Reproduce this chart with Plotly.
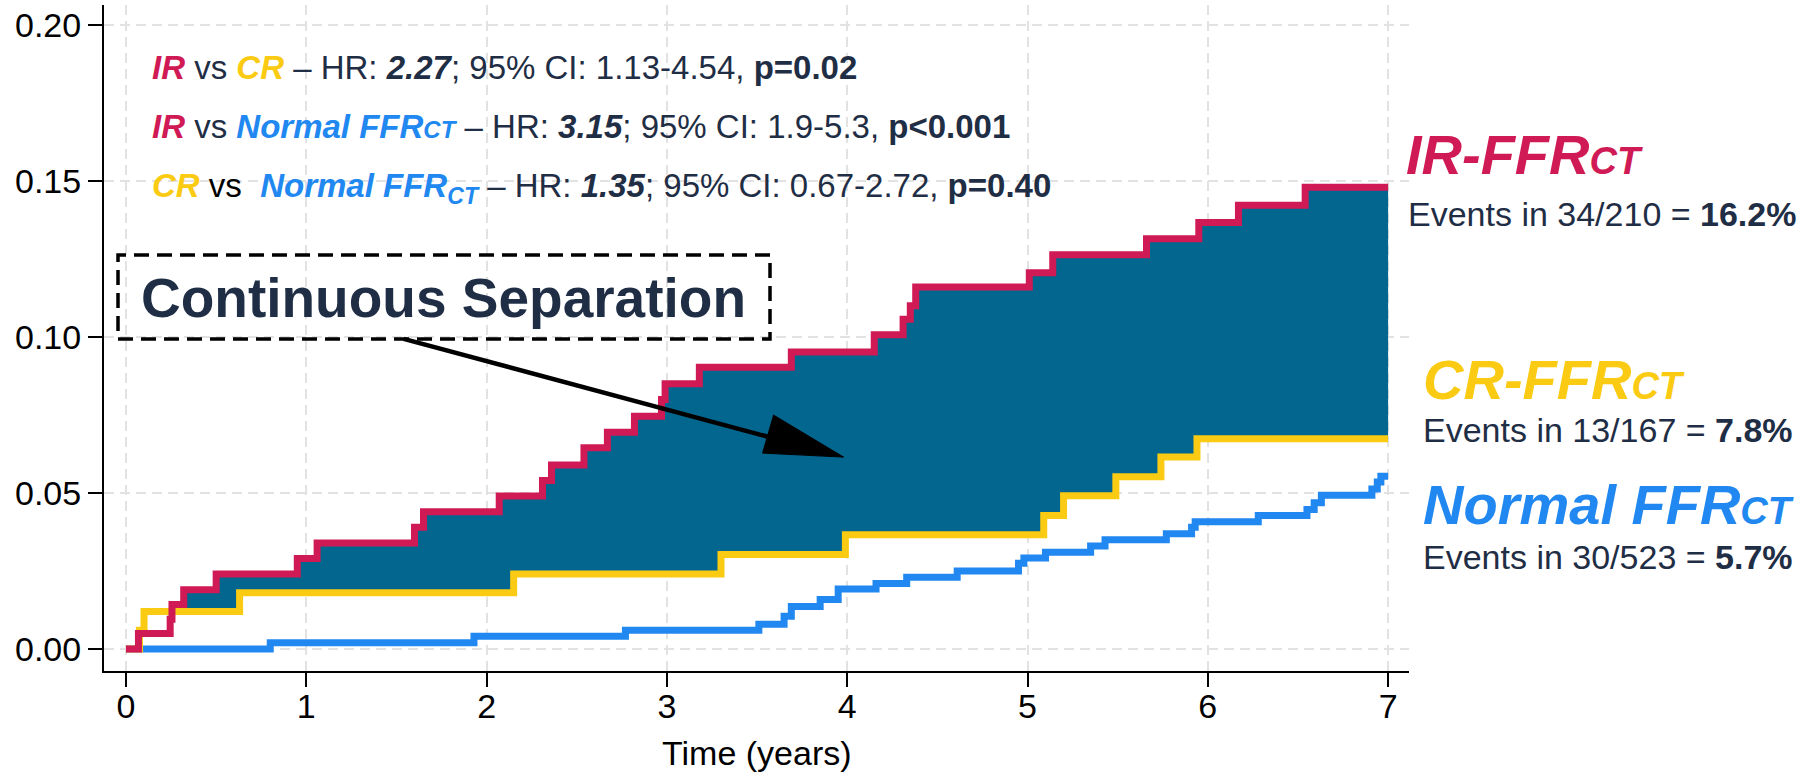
import numpy as np
import plotly.graph_objects as go

# Kaplan-Meier cumulative event curves (time in years, cumulative incidence after each step)
ir_times = [0.0, 0.069, 0.245, 0.255, 0.32, 0.50, 0.95, 1.06, 1.60, 1.65, 2.07, 2.31, 2.36,
            2.54, 2.67, 2.82, 2.97, 2.99, 3.18, 3.69, 4.15, 4.31, 4.35, 4.38, 5.01, 5.14,
            5.66, 5.95, 6.17, 6.54, 7.0]
ir_values = [0.0, 0.005, 0.0095, 0.0143, 0.019, 0.024, 0.029, 0.034, 0.039, 0.044, 0.049,
             0.054, 0.059, 0.0645, 0.0695, 0.0746, 0.080, 0.085, 0.0903, 0.0952, 0.1007,
             0.1057, 0.110, 0.116, 0.1206, 0.1264, 0.1315, 0.1367, 0.1422, 0.148, 0.148]

cr_times = [0.0, 0.075, 0.10, 0.63, 2.15, 3.30, 3.99, 5.09, 5.20, 5.49, 5.74, 5.94, 7.0]
cr_values = [0.0, 0.006, 0.012, 0.018, 0.024, 0.0303, 0.0366, 0.0428, 0.0491, 0.0552,
             0.0615, 0.0674, 0.0674]

normal_times = [0.0, 0.80, 1.93, 2.77, 3.51, 3.65, 3.69, 3.85, 3.95, 4.16, 4.33, 4.61, 4.95,
                4.98, 5.10, 5.35, 5.43, 5.77, 5.91, 5.93, 6.28, 6.55, 6.59, 6.63, 6.91,
                6.94, 6.96, 7.0]
normal_values = [0.0, 0.002, 0.0041, 0.006, 0.0079, 0.0105, 0.0136, 0.0159, 0.0192, 0.021,
                 0.023, 0.025, 0.0275, 0.0292, 0.031, 0.033, 0.035, 0.0369, 0.039, 0.0408,
                 0.0428, 0.0447, 0.0469, 0.0493, 0.0513, 0.0535, 0.0554, 0.0554]

x_ticks = [0, 1, 2, 3, 4, 5, 6, 7]
y_ticks = [0.00, 0.05, 0.10, 0.15, 0.20]

RED = "#D01A55"
YELLOW = "#FACB12"
BLUE = "#2088F0"
FILL = "#02668F"
NAVY = "#1F2E45"
FONT = "Liberation Sans, Arial, sans-serif"

# plot area in pixels
W, H = 1813, 776
ML, MR, MT, MB = 104, 404, 5, 105
PW, PH = W - ML - MR, H - MT - MB


def px(x):
    return (x - ML) / PW


def py(y):
    return (H - MB - y) / PH


def step_at(times, values, t):
    idx = np.searchsorted(np.asarray(times), t, side="right") - 1
    return np.asarray(values)[idx]


# shaded band between CR and IR wherever IR lies above CR
grid = np.union1d(ir_times, cr_times)
band_low = step_at(cr_times, cr_values, grid)
band_high = np.maximum(step_at(ir_times, ir_values, grid), band_low)

fig = go.Figure()
fig.add_trace(go.Scatter(x=grid, y=band_low, mode="lines", line=dict(width=0, shape="hv"),
                         hoverinfo="skip", showlegend=False))
fig.add_trace(go.Scatter(x=grid, y=band_high, mode="lines", line=dict(width=0, shape="hv"),
                         fill="tonexty", fillcolor=FILL, hoverinfo="skip", showlegend=False))
fig.add_trace(go.Scatter(x=normal_times, y=normal_values, mode="lines", name="Normal FFRCT",
                         line=dict(color=BLUE, width=7, shape="hv"), showlegend=False))
fig.add_trace(go.Scatter(x=cr_times, y=cr_values, mode="lines", name="CR-FFRCT",
                         line=dict(color=YELLOW, width=7, shape="hv"), showlegend=False))
fig.add_trace(go.Scatter(x=ir_times, y=ir_values, mode="lines", name="IR-FFRCT",
                         line=dict(color=RED, width=7, shape="hv"), showlegend=False))

x_range = [(ML - 126) / 180.3, (ML + PW - 126) / 180.3]
y_range = [(649 - (H - MB)) / 3120, (649 - MT) / 3120]

axis_common = dict(
    showline=True, linecolor="black", linewidth=2,
    ticks="outside", ticklen=14, tickwidth=2, tickcolor="black",
    showgrid=True, gridcolor="#E2E2E2", gridwidth=2, griddash="10px,6px",
    zeroline=False, tickfont=dict(family=FONT, size=34, color="black"),
)
fig.update_xaxes(range=x_range, tickvals=x_ticks, ticklabelstandoff=-10, **axis_common)
fig.update_yaxes(range=y_range, tickvals=y_ticks, tickformat=".2f", ticklabelstandoff=0,
                 **axis_common)


def col(txt, c):
    return f"<b><i><span style='color:{c}'>{txt}</span></i></b>"


small_ct = "<span style='font-size:24px'>CT</span>"
lines = [
    (f"{col('IR', RED)} vs {col('CR', YELLOW)} – HR: <b><i>2.27</i></b>; 95% CI: 1.13-4.54, "
     f"<b>p=0.02</b>", 67),
    (f"{col('IR', RED)} vs {col('Normal FFR' + small_ct, BLUE)} – HR: <b><i>3.15</i></b>; "
     f"95% CI: 1.9-5.3, <b>p&lt;0.001</b>", 127),
    (f"{col('CR', YELLOW)} <span style='color:black'>vs</span>  "
     f"{col('Normal FFR<sub>CT</sub>', BLUE)} – HR: <b><i>1.35</i></b>; 95% CI: 0.67-2.72, "
     f"<b>p=0.40</b>", 188),
]
annotations = []
for txt, ypix in lines:
    annotations.append(dict(text=txt, xref="paper", yref="paper", x=px(150), y=py(ypix),
                            xanchor="left", yanchor="middle", showarrow=False,
                            font=dict(family=FONT, size=33, color=NAVY)))

big_ct = "<span style='font-size:38px'>CT</span>"
right_labels = [
    (f"<b><i>IR-FFR{big_ct}</i></b>", RED, 56, 1404, 154),
    ("Events in 34/210 = <b>16.2%</b>", NAVY, 34, 1406, 214),
    (f"<b><i>CR-FFR{big_ct}</i></b>", YELLOW, 56, 1421, 379),
    ("Events in 13/167 = <b>7.8%</b>", NAVY, 34, 1421, 430),
    (f"<b><i>Normal FFR{big_ct}</i></b>", BLUE, 56, 1421, 505),
    ("Events in 30/523 = <b>5.7%</b>", NAVY, 34, 1421, 557),
]
for txt, c, size, xpix, ypix in right_labels:
    annotations.append(dict(text=txt, xref="paper", yref="paper", x=px(xpix), y=py(ypix),
                            xanchor="left", yanchor="middle", showarrow=False,
                            font=dict(family=FONT, size=size, color=c)))

# callout box text
annotations.append(dict(text="<b>Continuous Separation</b>", xref="paper", yref="paper",
                        x=px(444), y=py(298), xanchor="center", yanchor="middle",
                        showarrow=False, font=dict(family=FONT, size=55, color=NAVY)))

# x-axis title
annotations.append(dict(text="Time (years)", xref="paper", yref="paper", x=0.5, y=py(753),
                        xanchor="center", yanchor="middle", showarrow=False,
                        font=dict(family=FONT, size=34, color="black")))

# arrow from the callout box into the shaded band; shaft stops inside the head
arrow_tip = (3.98, 0.0615)
arrow_tail = (1.54, 0.0994)
shaft_frac = 1 - 40 / 455.6
shaft_end = (arrow_tail[0] + (arrow_tip[0] - arrow_tail[0]) * shaft_frac,
             arrow_tail[1] + (arrow_tip[1] - arrow_tail[1]) * shaft_frac)

shapes = [
    dict(type="rect", xref="paper", yref="paper", x0=px(118), x1=px(770), y0=py(339),
         y1=py(255), line=dict(color="black", width=3.5, dash="15px,8px"),
         fillcolor="rgba(0,0,0,0)", layer="above"),
    dict(type="line", xref="x", yref="y", x0=arrow_tail[0], y0=arrow_tail[1],
         x1=shaft_end[0], y1=shaft_end[1], line=dict(color="black", width=4.5),
         layer="above"),
    dict(type="path", xref="x", yref="y", xsizemode="pixel", ysizemode="pixel",
         xanchor=arrow_tip[0], yanchor=arrow_tip[1], path="M0,0 L-70,42 L-81,4 Z",
         fillcolor="black", line=dict(color="black", width=1), layer="above"),
]

fig.update_layout(
    width=W, height=H, autosize=False,
    margin=dict(l=ML, r=MR, t=MT, b=MB, pad=0),
    plot_bgcolor="white", paper_bgcolor="white",
    annotations=annotations, shapes=shapes,
    font=dict(family=FONT, color=NAVY),
)

fig.write_html("out.html")
